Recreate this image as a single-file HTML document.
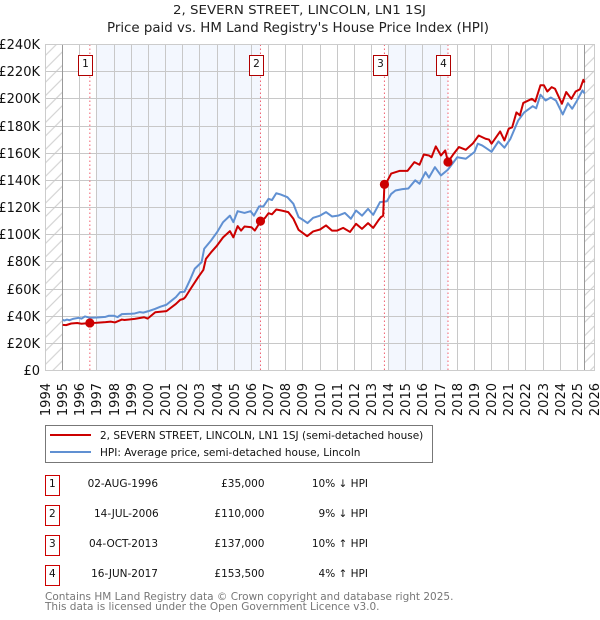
<!DOCTYPE html>
<html>
<head>
<meta charset="utf-8">
<title>2, SEVERN STREET, LINCOLN, LN1 1SJ</title>
<style>
html,body{margin:0;padding:0;background:#fff;}
svg{display:block;font-family:"DejaVu Sans","Liberation Sans",sans-serif;}
</style>
</head>
<body>
<svg id="chart" xmlns="http://www.w3.org/2000/svg" width="600" height="620" viewBox="0 0 600 620">
<defs>
<pattern id="hatch" patternUnits="userSpaceOnUse" width="9.5" height="9.5" patternTransform="rotate(45)">
<rect width="9.5" height="9.5" fill="#fff"/>
<line x1="4.8" y1="0" x2="4.8" y2="9.5" stroke="#ccc" stroke-width="1"/>
</pattern>
</defs>
<text x="299.5" y="14" font-size="12.6" text-anchor="middle" textLength="253" lengthAdjust="spacingAndGlyphs" fill="#222">2, SEVERN STREET, LINCOLN, LN1 1SJ</text>
<text x="298" y="32" font-size="13" text-anchor="middle" textLength="382" lengthAdjust="spacingAndGlyphs" fill="#222">Price paid vs. HM Land Registry's House Price Index (HPI)</text>
<g id="plot"></g>
<g>
<rect x="45.5" y="425.5" width="387" height="37" fill="#fff" stroke="#777"/>
<line x1="50" y1="435" x2="91" y2="435" stroke="#cc0000" stroke-width="2"/>
<line x1="50" y1="452" x2="91" y2="452" stroke="#6090d2" stroke-width="2"/>
<text x="100" y="439" font-size="10.5" fill="#111">2, SEVERN STREET, LINCOLN, LN1 1SJ (semi-detached house)</text>
<text x="100" y="456" font-size="10.5" fill="#111">HPI: Average price, semi-detached house, Lincoln</text>
</g>
<g font-size="10.5" fill="#111">
<g>
<rect x="45.5" y="475.5" width="14" height="20" fill="#fff" stroke="#cc0000"/>
<text x="52.3" y="487" text-anchor="middle">1</text>
<text x="158" y="487" text-anchor="end">02-AUG-1996</text>
<text x="264.5" y="487" text-anchor="end">£35,000</text>
<text x="368" y="487" text-anchor="end">10% ↓ HPI</text>
</g>
<g>
<rect x="45.5" y="505.5" width="14" height="20" fill="#fff" stroke="#cc0000"/>
<text x="52.3" y="517" text-anchor="middle">2</text>
<text x="158.7" y="517" text-anchor="end">14-JUL-2006</text>
<text x="264.5" y="517" text-anchor="end">£110,000</text>
<text x="368" y="517" text-anchor="end">9% ↓ HPI</text>
</g>
<g>
<rect x="45.5" y="535.5" width="14" height="20" fill="#fff" stroke="#cc0000"/>
<text x="52.3" y="547" text-anchor="middle">3</text>
<text x="158" y="547" text-anchor="end">04-OCT-2013</text>
<text x="264.5" y="547" text-anchor="end">£137,000</text>
<text x="368" y="547" text-anchor="end">10% ↑ HPI</text>
</g>
<g>
<rect x="45.5" y="565.5" width="14" height="20" fill="#fff" stroke="#cc0000"/>
<text x="52.3" y="577" text-anchor="middle">4</text>
<text x="158" y="577" text-anchor="end">16-JUN-2017</text>
<text x="264.5" y="577" text-anchor="end">£153,500</text>
<text x="368" y="577" text-anchor="end">4% ↑ HPI</text>
</g>
</g>
<text x="45" y="600" font-size="10.5" fill="#777">Contains HM Land Registry data © Crown copyright and database right 2025.</text>
<text x="45" y="610" font-size="10.5" fill="#777">This data is licensed under the Open Government Licence v3.0.</text>
</svg>
<script>
const yearTicks = [1994,1995,1996,1997,1998,1999,2000,2001,2002,2003,2004,2005,2006,2007,2008,2009,2010,2011,2012,2013,2014,2015,2016,2017,2018,2019,2020,2021,2022,2023,2024,2025,2026];
const valueTicks = [0,20,40,60,80,100,120,140,160,180,200,220,240];
const dataStart = 1995.0;
const dataEnd = 2025.42;
const saleDates = [1996.585,2006.53,2013.755,2017.46];
const saleValues = [35,110,137,153.5];
const saleLabels = ['1','2','3','4'];
const shadeStarts = [1997,2014];
const shadeEnds = [2006.53,2017.46];
const hpiDates = [1995.0,1995.1,1995.25,1995.4,1995.6,1995.93,1996.1,1996.3,1996.6,1997.0,1997.5,1997.7,1998.0,1998.2,1998.45,1999.0,1999.2,1999.5,1999.7,2000.0,2000.4,2000.7,2001.05,2001.35,2001.6,2001.85,2002.1,2002.4,2002.7,2003.1,2003.25,2003.65,2004.0,2004.35,2004.75,2004.95,2005.2,2005.6,2005.95,2006.15,2006.45,2006.7,2007.0,2007.2,2007.45,2007.7,2008.1,2008.45,2008.75,2009.05,2009.27,2009.6,2010.0,2010.35,2010.7,2011.05,2011.45,2011.8,2012.1,2012.45,2012.8,2013.1,2013.5,2013.9,2014.15,2014.4,2014.8,2015.15,2015.55,2015.8,2016.15,2016.35,2016.7,2017.05,2017.45,2018.0,2018.5,2019.0,2019.2,2019.45,2019.65,2020.0,2020.4,2020.75,2021.1,2021.55,2021.9,2022.4,2022.6,2022.85,2023.15,2023.45,2023.75,2024.15,2024.45,2024.7,2024.95,2025.3,2025.42];
const hpiValues = [37.3,36.8,37.5,37,38,38.8,38.2,39.8,38.8,39,39.5,40.3,40.3,39.3,41.5,41.8,42,43,42.6,43.7,45.4,47,48.4,51.5,54,57.7,58,66,74.9,79.8,89.6,95.7,101.8,109.2,114,109.2,117.3,116,117.3,114,120.8,120.8,126.4,125.5,130.5,129.6,127.6,122.7,112.9,110.5,108.5,112.4,114,116.6,113.4,114,116,111.7,117.8,114,119,114.6,124,124.6,130,132.5,133.5,134,140,137.5,146,142,149.7,143.6,147.8,157,155.9,160.8,167,165.7,164,161,168.6,164,170.6,184,190,194.6,193,203,198.8,201,198.8,188.5,196.8,192.7,198,206.2,204];
const priceDates = [1995.0,1995.2,1995.5,1995.85,1996.1,1996.585,1997.0,1997.5,1997.8,1998.05,1998.45,1998.6,1999.2,1999.75,1999.95,2000.4,2001.05,2001.6,2001.85,2002.05,2002.15,2002.45,2002.9,2003.2,2003.35,2003.65,2004.0,2004.35,2004.75,2004.95,2005.2,2005.4,2005.6,2006.0,2006.2,2006.53,2006.8,2007.0,2007.2,2007.45,2007.75,2008.15,2008.45,2008.75,2009.25,2009.6,2010.0,2010.35,2010.7,2011.0,2011.35,2011.75,2012.1,2012.45,2012.8,2013.1,2013.4,2013.55,2013.68,2013.755,2013.9,2014.15,2014.65,2015.1,2015.5,2015.8,2016.05,2016.35,2016.5,2016.75,2017.05,2017.3,2017.46,2017.75,2018.1,2018.5,2018.9,2019.25,2019.65,2019.85,2020.0,2020.5,2020.75,2021.0,2021.2,2021.45,2021.65,2021.85,2022.35,2022.55,2022.85,2023.05,2023.25,2023.5,2023.7,2024.1,2024.35,2024.65,2024.9,2025.15,2025.35,2025.42];
const priceValues = [33.6,33.4,34.6,35,34.4,35,35.2,35.6,36,35.4,37.5,37.2,38,39.2,38.2,42.9,43.7,49,52,52.8,54,60,68.7,74,82.2,87,92,98,102.6,98,106.3,103,106,105.5,103,109.7,112.4,115.8,115,118.5,117.8,116.6,111.7,103.6,98.9,102.4,103.8,106.8,103,103,105,102,108,104.3,108.5,105,110.5,112.9,114,137,139,145,147,147,153.4,151.5,159,158.3,157,165,158.3,162,153.5,158.8,164.5,162.5,167,173,170.6,170,167,176,169.4,178,179,190,187.8,197,200,198,210,210,205.4,208.6,207.4,196.4,205,200,205.4,207,214,212];

const SVG_NS = 'http://www.w3.org/2000/svg';
const plot = document.getElementById('plot');
const plotLeft = 45.5, plotRight = 594.5, plotTop = 44.5, plotBottom = 370.5;
function xScale(year){ return plotLeft + (year - 1994) * (plotRight - plotLeft) / 32; }
function yScale(value){ return plotBottom - value * (plotBottom - plotTop) / 240; }
function make(tag, attrs, parent){
  const el = document.createElementNS(SVG_NS, tag);
  for (const k in attrs) el.setAttribute(k, attrs[k]);
  (parent || plot).appendChild(el);
  return el;
}
function linePath(xs, ys){
  return xs.map((d, i) => (i ? 'L' : 'M') + xScale(d).toFixed(2) + ' ' + yScale(ys[i]).toFixed(2)).join(' ');
}

const bg = make('rect', {x: plotLeft, y: plotTop, width: plotRight - plotLeft, height: plotBottom - plotTop, fill: '#fff'});



const hatchL = make('rect', {x: plotLeft, y: plotTop, width: xScale(dataStart) - plotLeft, height: plotBottom - plotTop, fill: 'url(#hatch)'});


const hatchR = make('rect', {x: xScale(dataEnd), y: plotTop, width: plotRight - xScale(dataEnd), height: plotBottom - plotTop, fill: 'url(#hatch)'});



shadeStarts.forEach((s, i) => {
  const band = make('rect', {x: xScale(s), y: plotTop, width: xScale(shadeEnds[i]) - xScale(s), height: plotBottom - plotTop, fill: '#f3f7fe'});
  
  
});

valueTicks.forEach(v => {
  const y = Math.round(yScale(v) - 0.5) + 0.5;
  const g = make('line', {x1: plotLeft, x2: plotRight, y1: y, y2: y, stroke: '#c8c8c8', 'stroke-width': 1});
  
  
  const t = make('text', {x: 40, y: y + 4.6, 'font-size': 13, 'text-anchor': 'end', fill: '#111'});
  t.textContent = v === 0 ? '£0' : '£' + v + 'K';
  
  
});

yearTicks.forEach(yr => {
  const x = Math.round(xScale(yr) - 0.5) + 0.5;
  const g = make('line', {x1: x, x2: x, y1: plotTop, y2: plotBottom, stroke: '#c8c8c8', 'stroke-width': 1});
  
  
  const t = make('text', {transform: 'translate(' + (x + 4.6) + ',383) rotate(-90)', 'font-size': 13, 'text-anchor': 'end', fill: '#111'});
  t.textContent = String(yr);
  
  
});

[dataStart, dataEnd].forEach(d => {
  const x = Math.round(xScale(d) - 0.5) + 0.5;
  const a = make('line', {x1: x, x2: x, y1: plotTop, y2: plotBottom, stroke: '#999', 'stroke-width': 1});
  
  
});

saleDates.forEach(d => {
  const x = xScale(d);
  const v = make('line', {x1: x, x2: x, y1: plotTop, y2: plotBottom, stroke: '#f06070', 'stroke-width': 1, 'stroke-dasharray': '1.5 2.5'});
  
  
});

const hpiLine = make('path', {d: linePath(hpiDates, hpiValues), fill: 'none', stroke: '#6090d2', 'stroke-width': 2, 'stroke-linejoin': 'round'});


const priceLine = make('path', {d: linePath(priceDates, priceValues), fill: 'none', stroke: '#cc0000', 'stroke-width': 2, 'stroke-linejoin': 'round'});



saleDates.forEach((d, i) => {
  const c = make('circle', {cx: xScale(d), cy: yScale(saleValues[i]), r: 4.6, fill: '#cc0000'});
  
  
  const x = Math.round(xScale(d) - 10.5) - 0.5;
  const b = make('rect', {x: x, y: 55.5, width: 14, height: 20, fill: '#fff', stroke: '#b00000', 'stroke-width': 1});
  
  
  const t = make('text', {x: x + 7, y: 67, 'font-size': 10.5, 'text-anchor': 'middle', fill: '#111'});
  t.textContent = saleLabels[i];
  
  
});

const frame = make('rect', {x: plotLeft, y: plotTop, width: plotRight - plotLeft, height: plotBottom - plotTop, fill: 'none', stroke: '#ccc', 'stroke-width': 1});


</script>
</body>
</html>
